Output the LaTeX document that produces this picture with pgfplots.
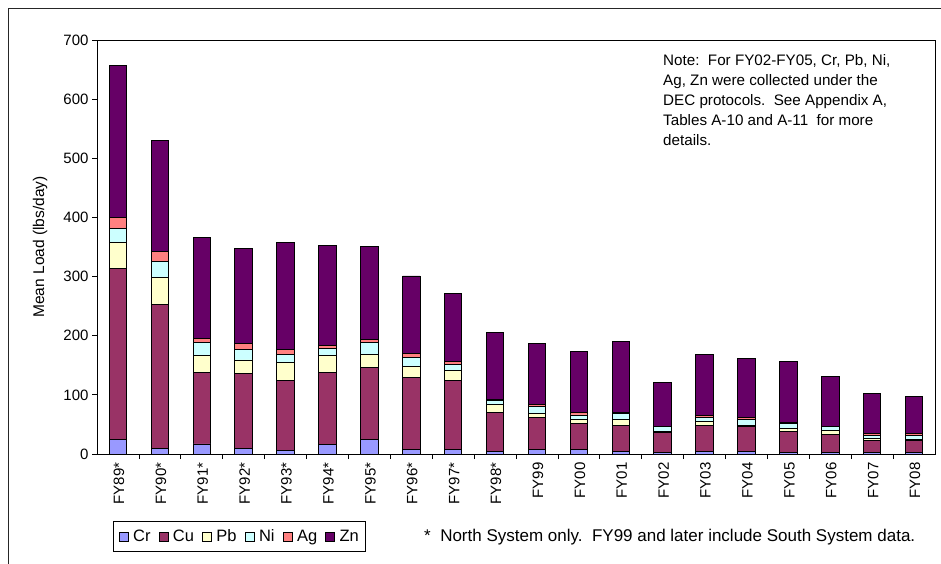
\documentclass[border=0pt]{standalone}
\usepackage{fontspec}
\setmainfont{Liberation Sans}
\usepackage{pgfplots}
\usepackage{pgfplotstable}
\pgfplotsset{compat=1.18}

\definecolor{cCr}{HTML}{9999FF}
\definecolor{cCu}{HTML}{993366}
\definecolor{cPb}{HTML}{FFFFCC}
\definecolor{cNi}{HTML}{CCFFFF}
\definecolor{cAg}{HTML}{FF8080}
\definecolor{cZn}{HTML}{660066}

\newcommand\lbl{\fontsize{15pt}{17pt}\selectfont}

% mean loads, lbs/day
\pgfplotstableread{
x  Cr  Cu  Pb  Ni  Ag   Zn
0  25  289 44  23  19   257
1  10  243 46  26  17   188
2  17  121 28  23  7    170
3  10  126 23  18  10   160
4  6   119 29  15  7    181
5  16  122 28  12  6    169
6  25  122 21  20  6    157
7  7   123 18  16  6    131
8  7   118 16  11  4    116
9  5   66  12  8   2    112
10 7   54  8   11  4    103
11 7   44  8   7   4    103
12 5   44  10  10  0.5  121
13 2   34  2   8   0.5  74
14 5   44  6   7   3    104
15 5   41  3   9   3    100
16 2   36  5   9   2    103
17 2   31  6   7   0.5  84
18 2   21  4   5   3    68
19 2   21  2   7   2    63
}\loads

\pgfplotsset{
  sq/.style={fill=#1, draw=black, line width=0.9pt},
}

\begin{document}
\begin{tikzpicture}
\path[use as bounding box] (0pt,0pt) rectangle (941pt,-563pt);
\draw[line width=1pt, black!85] (8pt,-580pt) -- (8pt,-8pt) -- (960pt,-8pt);

\begin{axis}[
  at={(97pt,-454pt)}, anchor=south west,
  scale only axis, width=838pt, height=414pt,
  ybar stacked, bar width=17.5pt,
  ymin=0, ymax=700, ytick={0,100,...,700},
  xmin=-0.5, xmax=19.5,
  xtick={0,...,19},
  xticklabels={FY89*,FY90*,FY91*,FY92*,FY93*,FY94*,FY95*,FY96*,FY97*,FY98*,FY99,FY00,FY01,FY02,FY03,FY04,FY05,FY06,FY07,FY08},
  major x tick style={draw=none},
  minor xtick={0.5,1.5,...,18.5},
  tick align=outside, tick pos=left,
  major tick length=5pt, minor tick length=5pt,
  tick style={black, line width=0.8pt},
  axis line style={line width=0.8pt},
  /pgf/number format/assume math mode=true,
  ticklabel style={font=\lbl},
  xticklabel style={rotate=90, anchor=east, yshift=-1pt},
  ylabel={Mean Load (lbs/day)},
  ylabel style={font=\fontsize{15.5pt}{17pt}\selectfont, at={(axis description cs:-0.068,0.5)}, anchor=center},
  legend columns=6,
  legend style={at={(axis description cs:0.0195,-0.163)}, anchor=north west,
    draw=black, line width=0.8pt, font=\fontsize{16.5pt}{18pt}\selectfont,
    inner xsep=5pt, inner ysep=6pt,
    /tikz/every odd column/.append style={column sep=2.5pt},
    /tikz/every even column/.append style={column sep=6pt}},
  legend image code/.code={\draw[#1] (0pt,-4.5pt) rectangle (9pt,4.5pt);},
]
\addplot[sq=cCr] table[x=x, y=Cr] {\loads};
\addplot[sq=cCu] table[x=x, y=Cu] {\loads};
\addplot[sq=cPb] table[x=x, y=Pb] {\loads};
\addplot[sq=cNi] table[x=x, y=Ni] {\loads};
\addplot[sq=cAg] table[x=x, y=Ag] {\loads};
\addplot[sq=cZn] table[x=x, y=Zn] {\loads};
\legend{Cr,Cu,Pb,Ni,Ag,Zn}
\end{axis}

\node[anchor=north west, align=left, font=\fontsize{15.2pt}{20pt}\selectfont, inner sep=0pt]
  at (663pt,-54pt) {Note:\ \ For FY02-FY05, Cr, Pb, Ni,\\Ag, Zn were collected under the\\DEC protocols.\ \ See Appendix A,\\Tables A-10 and A-11\ \ for more\\details.};
\node[anchor=west, font=\fontsize{17pt}{19pt}\selectfont, inner sep=0pt] at (424pt,-537pt)
  {*\ \ North System only.\ \ FY99 and later include South System data.};
\end{tikzpicture}
\end{document}
